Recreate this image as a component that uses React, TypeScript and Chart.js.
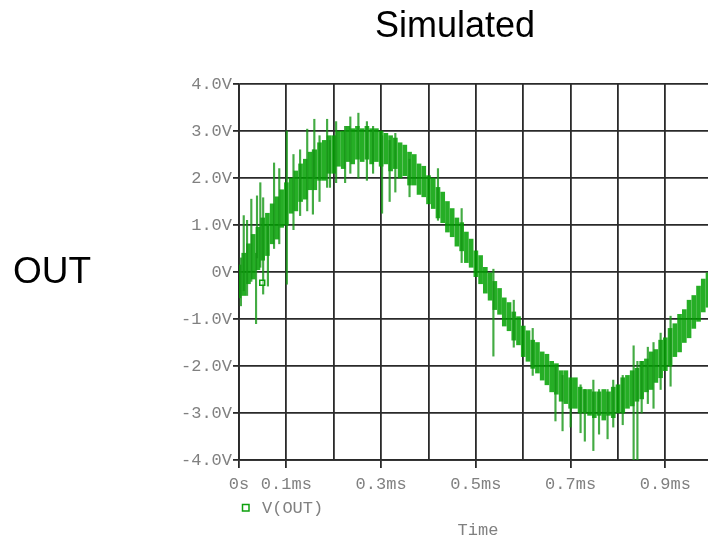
import React, { useEffect, useRef } from 'react';
import { Chart, registerables } from 'chart.js';

Chart.register(...registerables);

// Transient trace of V(OUT): each sample holds the dense min/max band of the noisy signal.
const sampleTimesMs = [
  0.00, 0.01, 0.02, 0.03, 0.04, 0.05, 0.06, 0.07, 0.08, 0.09,
  0.10, 0.11, 0.12, 0.13, 0.14, 0.15, 0.16, 0.17, 0.18, 0.19,
  0.20, 0.21, 0.22, 0.23, 0.24, 0.25, 0.26, 0.27, 0.28, 0.29,
  0.30, 0.31, 0.32, 0.33, 0.34, 0.35, 0.36, 0.37, 0.38, 0.39,
  0.40, 0.41, 0.42, 0.43, 0.44, 0.45, 0.46, 0.47, 0.48, 0.49,
  0.50, 0.51, 0.52, 0.53, 0.54, 0.55, 0.56, 0.57, 0.58, 0.59,
  0.60, 0.61, 0.62, 0.63, 0.64, 0.65, 0.66, 0.67, 0.68, 0.69,
  0.70, 0.71, 0.72, 0.73, 0.74, 0.75, 0.76, 0.77, 0.78, 0.79,
  0.80, 0.81, 0.82, 0.83, 0.84, 0.85, 0.86, 0.87, 0.88, 0.89,
  0.90, 0.91, 0.92, 0.93, 0.94, 0.95, 0.96, 0.97, 0.98, 0.99,
];

const coreLow = [
  -0.55, -0.5, -0.25, -0.15, 0.05, 0.25, 0.35, 0.6, 0.7, 0.95,
  1.0, 1.25, 1.3, 1.5, 1.55, 1.75, 1.75, 1.95, 1.95, 2.1,
  2.1, 2.25, 2.2, 2.35, 2.3, 2.4, 2.35, 2.4, 2.3, 2.35,
  2.25, 2.3, 2.15, 2.2, 2.0, 2.05, 1.85, 1.85, 1.65, 1.6,
  1.45, 1.35, 1.15, 1.05, 0.85, 0.75, 0.55, 0.45, 0.2, 0.1,
  -0.1, -0.25, -0.45, -0.6, -0.8, -0.9, -1.15, -1.25, -1.45, -1.55,
  -1.8, -1.9, -2.05, -2.15, -2.3, -2.4, -2.55, -2.6, -2.75, -2.8,
  -2.9, -2.9, -3.0, -3.0, -3.05, -3.1, -3.05, -3.15, -3.05, -3.1,
  -3.0, -3.0, -2.9, -2.85, -2.75, -2.7, -2.55, -2.5, -2.35, -2.25,
  -2.1, -2.0, -1.8, -1.7, -1.5, -1.4, -1.2, -1.05, -0.85, -0.75,
];

const coreHigh = [
  0.15, 0.4, 0.6, 0.8, 0.95, 1.15, 1.25, 1.45, 1.6, 1.75,
  1.9, 2.0, 2.15, 2.3, 2.4, 2.55, 2.6, 2.75, 2.8, 2.9,
  2.9, 3.0, 3.0, 3.1, 3.05, 3.1, 3.05, 3.1, 3.05, 3.05,
  3.0, 2.95, 2.9, 2.85, 2.75, 2.7, 2.55, 2.5, 2.3, 2.25,
  2.05, 2.0, 1.8, 1.7, 1.5, 1.35, 1.15, 1.05, 0.85, 0.7,
  0.45, 0.35, 0.1, 0.0, -0.2, -0.35, -0.55, -0.65, -0.85, -0.95,
  -1.15, -1.25, -1.45, -1.5, -1.7, -1.75, -1.9, -1.95, -2.1, -2.1,
  -2.25, -2.25, -2.45, -2.5, -2.5, -2.55, -2.55, -2.5, -2.55, -2.45,
  -2.4, -2.25, -2.2, -2.1, -2.05, -1.9, -1.85, -1.7, -1.65, -1.45,
  -1.4, -1.2, -1.1, -0.9, -0.8, -0.6, -0.5, -0.3, -0.15, 0.0,
];

// Isolated glitches that stick out of the band.
const spikeTimesMs = [
  0.004, 0.010, 0.017, 0.026, 0.036, 0.038, 0.045, 0.051, 0.061, 0.074,
  0.085, 0.101, 0.115, 0.129, 0.144, 0.156, 0.159, 0.170, 0.186, 0.192,
  0.205, 0.224, 0.235, 0.252, 0.270, 0.283, 0.302, 0.318, 0.330, 0.360,
  0.420, 0.470, 0.537, 0.580, 0.620, 0.668, 0.683, 0.700, 0.721, 0.730,
  0.748, 0.760, 0.778, 0.790, 0.810, 0.833, 0.841, 0.850, 0.863, 0.875,
  0.890, 0.911,
];
const spikeLow = [
  -0.72, -0.4, -0.5, -0.2, -1.1, 0.3, 0.1, -0.47, -0.3, 0.5,
  0.6, -0.26, 0.9, 1.2, 1.3, 1.23, 2.0, 1.5, 1.8, 1.8,
  1.9, 1.9, 2.1, 2.0, 1.95, 2.1, 1.25, 1.5, 1.7, 1.6,
  1.1, 0.2, -1.79, -1.6, -2.2, -3.17, -3.38, -3.3, -3.42, -3.6,
  -3.8, -3.45, -3.55, -3.3, -3.25, -4.2, -4.2, -3.0, -2.8, -2.9,
  -2.5, -2.43,
];
const spikeHigh = [
  0.3, 1.2, 1.1, 1.55, 0.4, 1.62, 1.9, 1.58, 1.0, 2.32,
  2.2, 3.0, 2.5, 2.6, 3.04, 2.6, 3.25, 2.9, 3.25, 2.8,
  3.2, 3.1, 3.3, 3.38, 3.2, 3.1, 2.9, 2.8, 2.95, 2.4,
  2.2, 1.35, 0.06, -0.6, -1.2, -2.0, -2.2, -2.3, -2.4, -2.5,
  -2.3, -2.5, -2.5, -2.3, -2.2, -1.57, -1.9, -1.9, -1.6, -1.5,
  -1.3, -0.94,
];

// Trace marker symbol drawn on the curve.
const markerTimesMs = [0.049];
const markerVolts = [-0.23];

const gridTimesMs = [0, 0.1, 0.2, 0.3, 0.4, 0.5, 0.6, 0.7, 0.8, 0.9];
const timeTickLabels = ['0s', '0.1ms', '', '0.3ms', '', '0.5ms', '', '0.7ms', '', '0.9ms'];

const GREEN = '#0da00d';
const GRID = '#2a2a2a';
const LABEL = '#808080';
const MONO = '"Liberation Mono", "DejaVu Sans Mono", monospace';
const SANS = '"Liberation Sans", Arial, sans-serif';

const captions = {
  id: 'captions',
  afterDraw(chart: any) {
    const ctx = chart.ctx as CanvasRenderingContext2D;
    ctx.save();
    ctx.fillStyle = '#000';
    ctx.textBaseline = 'alphabetic';
    ctx.font = `36px ${SANS}`;
    ctx.textAlign = 'center';
    ctx.fillText('Simulated', 455, 37);
    ctx.font = `37px ${SANS}`;
    ctx.textAlign = 'left';
    ctx.fillText('OUT', 13, 283);

    ctx.strokeStyle = GREEN;
    ctx.lineWidth = 1.5;
    ctx.strokeRect(242.5, 504.5, 6.5, 6.5);
    ctx.fillStyle = LABEL;
    ctx.font = `17px ${MONO}`;
    ctx.textBaseline = 'middle';
    ctx.textAlign = 'left';
    ctx.fillText('V(OUT)', 262, 508);
    ctx.textAlign = 'center';
    ctx.fillText('Time', 478, 530);
    ctx.restore();
  },
};

export default function App() {
  const canvasRef = useRef<HTMLCanvasElement | null>(null);

  useEffect(() => {
    const canvas = canvasRef.current;
    if (!canvas) return;

    const core = sampleTimesMs.map((t, i) => ({ x: t, y: [coreLow[i], coreHigh[i]] }));
    const spikes = spikeTimesMs.map((t, i) => ({ x: t, y: [spikeLow[i], spikeHigh[i]] }));
    const markers = markerTimesMs.map((t, i) => ({ x: t, y: markerVolts[i] }));

    const chart = new Chart(canvas, {
      type: 'bar',
      data: {
        datasets: [
          {
            type: 'scatter',
            label: 'marker',
            data: markers,
            pointStyle: 'rect',
            pointRadius: 3.5,
            borderColor: GREEN,
            backgroundColor: 'rgba(255,255,255,0.5)',
            borderWidth: 1.5,
            order: 0,
          } as any,
          {
            label: 'V(OUT)',
            data: core as any,
            backgroundColor: 'rgba(0,160,0,0.85)',
            barThickness: 4,
            grouped: false,
            order: 2,
          },
          {
            label: 'V(OUT) glitches',
            data: spikes as any,
            backgroundColor: 'rgba(20,150,20,0.8)',
            barThickness: 1.5,
            grouped: false,
            order: 1,
          },
        ],
      },
      options: {
        animation: false,
        responsive: false,
        layout: { autoPadding: false, padding: { top: 84, left: 0, right: 0, bottom: 0 } },
        plugins: {
          legend: { display: false },
          tooltip: { enabled: false },
          title: { display: false },
        },
        scales: {
          x: {
            type: 'linear',
            min: 0,
            max: 0.99,
            offset: false,
            afterBuildTicks: (s: any) => {
              s.ticks = gridTimesMs.map((v) => ({ value: v }));
            },
            afterFit: (s: any) => {
              s.height = 82;
            },
            grid: {
              offset: false,
              color: GRID,
              lineWidth: 1.8,
              tickLength: 8,
              tickWidth: 1.8,
              tickColor: (c: any) => (timeTickLabels[c.index] ? GRID : 'rgba(0,0,0,0)'),
            },
            border: { color: GRID, width: 1.8 },
            ticks: {
              autoSkip: false,
              maxRotation: 0,
              padding: 6,
              color: LABEL,
              font: { family: MONO, size: 17 },
              callback: (_v: any, i: number) => timeTickLabels[i],
            },
          },
          y: {
            min: -4,
            max: 4,
            afterFit: (s: any) => {
              s.width = 239;
            },
            grid: {
              color: GRID,
              lineWidth: 1.8,
              tickLength: 6,
              tickWidth: 1.8,
              tickColor: GRID,
            },
            border: { color: GRID, width: 1.8 },
            ticks: {
              stepSize: 1,
              padding: 1,
              color: LABEL,
              font: { family: MONO, size: 17 },
              callback: (v: any) => (Number(v) === 0 ? '0V' : Number(v).toFixed(1) + 'V'),
            },
          },
        },
      } as any,
      plugins: [captions],
    });

    return () => chart.destroy();
  }, []);

  return (
    <div style={{ position: 'fixed', left: 0, top: 0, width: 708, height: 542, background: '#fff' }}>
      <canvas ref={canvasRef} width={708} height={542} style={{ display: 'block' }} />
    </div>
  );
}
